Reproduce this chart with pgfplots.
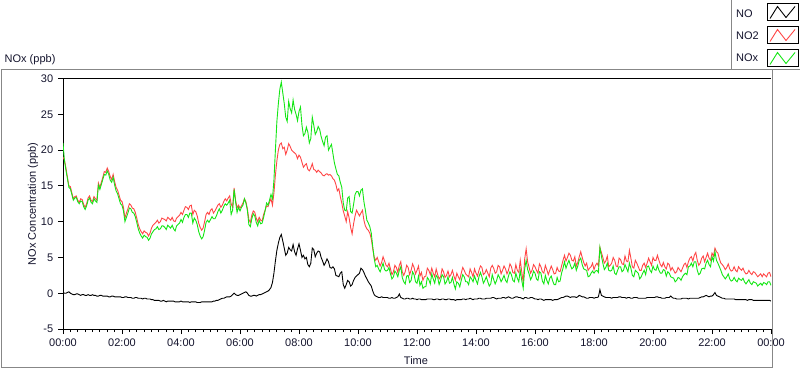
\documentclass[border=0pt]{standalone}
\usepackage{pgfplots}
\pgfplotsset{compat=1.18}
\usepackage{pgfplotstable}
\usepackage{fontspec}
\setmainfont{Liberation Sans}
\definecolor{nored}{RGB}{255,70,70}
\definecolor{nogreen}{RGB}{20,230,20}
\definecolor{txt}{RGB}{20,20,45}
\definecolor{framegray}{RGB}{135,135,135}

\pgfplotstableread{
t NO NO2 NOx
0.0 0.1 19.0 21.0
0.05 0.0 18.6 18.5
0.1 0.0 17.5 17.2
0.15 0.1 16.2 16.0
0.2 0.2 15.0 14.8
0.25 0.0 14.9 14.6
0.3 -0.1 14.0 13.8
0.35 -0.2 13.2 13.0
0.4 -0.2 13.5 13.3
0.45 -0.1 13.6 13.4
0.5 -0.1 13.0 12.8
0.55 -0.2 12.7 12.5
0.6 -0.3 13.2 12.9
0.65 -0.2 13.1 12.8
0.7 -0.2 12.4 12.1
0.75 -0.3 12.0 11.7
0.8 -0.3 12.5 12.2
0.85 -0.2 13.3 13.0
0.9 -0.3 13.6 13.3
0.95 -0.3 13.0 12.7
1.0 -0.2 12.8 12.5
1.05 -0.3 13.5 13.2
1.1 -0.3 13.2 12.9
1.15 -0.4 13.0 12.7
1.2 -0.4 15.4 15.1
1.25 -0.3 14.8 14.5
1.3 -0.3 15.5 15.2
1.35 -0.4 16.2 15.9
1.4 -0.4 17.0 16.6
1.45 -0.4 16.9 16.5
1.5 -0.4 17.5 17.1
1.55 -0.5 17.0 16.6
1.6 -0.5 16.3 15.8
1.65 -0.4 15.9 15.5
1.7 -0.4 16.6 16.2
1.75 -0.5 15.6 15.1
1.8 -0.5 14.8 14.3
1.85 -0.5 14.4 13.9
1.9 -0.5 13.7 13.2
1.95 -0.5 13.0 12.5
2.0 -0.6 12.8 12.3
2.05 -0.6 12.0 11.5
2.1 -0.5 10.5 10.0
2.15 -0.5 11.2 10.6
2.2 -0.6 11.8 11.2
2.25 -0.6 12.5 11.9
2.3 -0.6 12.3 11.8
2.35 -0.7 11.9 11.3
2.4 -0.7 11.8 11.2
2.45 -0.6 11.3 10.7
2.5 -0.6 10.5 9.9
2.55 -0.7 9.6 9.0
2.6 -0.7 9.0 8.4
2.65 -0.7 8.6 8.0
2.7 -0.8 8.3 7.7
2.75 -0.7 8.7 8.1
2.8 -0.7 8.5 7.9
2.85 -0.8 8.4 7.8
2.9 -0.8 8.0 7.4
2.95 -0.8 8.4 7.7
3.0 -0.9 9.1 8.3
3.05 -0.9 9.5 8.6
3.1 -1.0 9.7 8.9
3.15 -1.0 9.9 9.0
3.2 -1.0 10.2 9.3
3.25 -1.0 9.8 8.9
3.3 -1.1 10.0 9.0
3.35 -1.1 10.5 9.4
3.4 -1.0 10.4 9.4
3.45 -1.1 10.3 9.2
3.5 -1.2 10.1 8.9
3.55 -1.1 10.6 9.5
3.6 -1.1 10.4 9.3
3.65 -1.1 10.2 9.1
3.7 -1.1 10.6 9.5
3.75 -1.1 10.1 9.0
3.8 -1.2 10.0 8.7
3.85 -1.2 10.5 9.4
3.9 -1.2 10.7 9.6
3.95 -1.2 10.9 9.8
4.0 -1.1 11.3 10.3
4.05 -1.2 11.0 9.9
4.1 -1.2 11.6 10.6
4.15 -1.2 12.1 11.0
4.2 -1.2 12.0 11.0
4.25 -1.2 11.7 10.6
4.3 -1.3 12.2 11.2
4.35 -1.2 12.3 11.2
4.4 -1.2 11.0 9.8
4.45 -1.2 11.6 10.5
4.5 -1.2 11.4 10.2
4.55 -1.3 10.8 9.6
4.6 -1.3 9.8 8.6
4.65 -1.3 9.2 8.0
4.7 -1.2 8.8 7.6
4.75 -1.2 9.1 7.9
4.8 -1.2 10.0 8.8
4.85 -1.2 11.0 9.9
4.9 -1.2 11.3 10.2
4.95 -1.2 11.0 9.9
5.0 -1.2 11.6 10.3
5.05 -1.2 11.8 10.7
5.1 -1.1 11.2 10.4
5.15 -1.1 11.5 10.4
5.2 -1.0 11.9 10.8
5.25 -1.0 12.3 11.4
5.3 -0.9 12.5 11.8
5.35 -0.8 12.0 11.2
5.4 -0.7 12.3 11.6
5.45 -0.7 12.8 12.1
5.5 -0.6 13.2 12.5
5.55 -0.5 12.9 12.3
5.6 -0.5 13.3 12.6
5.65 -0.5 13.6 13.0
5.7 -0.4 12.5 11.0
5.75 -0.2 12.0 11.6
5.8 0.0 14.7 14.5
5.85 -0.2 13.0 12.8
5.9 -0.3 11.9 11.3
5.95 -0.3 12.3 12.0
6.0 -0.2 11.9 11.5
6.05 -0.1 12.2 12.0
6.1 0.0 12.6 12.3
6.15 0.1 13.2 13.2
6.2 0.2 12.8 12.6
6.25 0.0 11.8 11.6
6.3 -0.3 10.3 9.6
6.35 -0.4 9.9 9.3
6.4 -0.4 10.9 10.4
6.45 -0.3 11.5 11.1
6.5 -0.3 11.3 10.8
6.55 -0.4 10.5 9.9
6.6 -0.3 10.0 9.4
6.65 -0.2 10.6 10.2
6.7 -0.2 10.2 9.7
6.75 -0.1 10.1 9.8
6.8 0.0 11.0 10.6
6.85 0.1 11.6 11.5
6.9 0.2 12.2 12.6
6.95 0.3 12.1 12.3
7.0 0.5 12.7 13.0
7.05 0.8 13.2 13.8
7.1 1.5 12.3 13.2
7.15 2.8 14.0 15.8
7.2 4.5 16.5 20.0
7.25 6.0 18.5 24.0
7.3 7.0 20.0 26.5
7.35 7.8 20.8 28.5
7.4 8.2 21.0 29.5
7.45 7.3 20.2 28.0
7.5 6.3 20.4 26.5
7.55 5.3 19.4 24.6
7.6 5.6 20.0 24.0
7.65 6.4 20.9 26.8
7.7 6.1 20.5 25.8
7.75 5.9 20.0 25.2
7.8 6.8 19.8 27.0
7.85 5.8 19.6 25.7
7.9 5.3 19.4 25.0
7.95 6.2 18.8 24.1
8.0 6.9 19.3 25.4
8.05 6.0 19.0 26.0
8.1 5.0 18.3 23.5
8.15 5.3 17.6 22.0
8.2 4.8 17.9 22.3
8.25 5.0 18.1 23.2
8.3 4.0 17.3 22.5
8.35 3.7 17.1 21.0
8.4 4.2 17.5 21.6
8.45 6.3 18.1 24.6
8.5 6.1 17.3 23.5
8.55 5.1 17.2 22.2
8.6 5.6 16.9 22.6
8.65 5.9 17.2 23.3
8.7 5.8 17.0 22.9
8.75 5.0 16.8 21.9
8.8 4.5 16.5 21.2
8.85 3.9 16.4 20.6
8.9 4.3 16.6 21.8
8.95 4.8 16.7 22.0
9.0 4.4 16.5 20.0
9.05 3.6 16.6 20.4
9.1 3.5 16.4 20.8
9.15 3.7 16.0 19.5
9.2 3.4 15.8 18.2
9.25 2.5 15.2 17.4
9.3 2.4 14.3 16.6
9.35 2.3 14.6 16.4
9.4 2.8 13.5 15.5
9.45 3.0 12.6 14.8
9.5 1.2 11.5 12.6
9.55 0.7 10.8 11.6
9.6 1.2 10.0 11.5
9.65 1.8 11.4 13.3
9.7 1.6 10.5 13.5
9.75 1.0 9.2 11.4
9.8 1.2 8.3 11.2
9.85 1.8 9.7 12.4
9.9 2.2 10.8 13.8
9.95 2.4 11.6 14.2
10.0 2.6 11.2 14.2
10.05 2.8 10.8 13.6
10.1 3.5 11.2 14.4
10.15 3.3 11.6 14.6
10.2 2.9 10.2 12.8
10.25 2.4 9.4 11.6
10.3 2.0 9.0 10.2
10.35 1.6 8.8 9.8
10.4 1.3 8.4 9.3
10.45 1.0 7.6 8.4
10.5 0.3 6.2 6.5
10.55 -0.2 5.0 4.8
10.6 -0.4 4.6 3.7
10.65 -0.5 5.0 3.9
10.7 -0.6 4.4 3.4
10.75 -0.6 3.8 3.0
10.8 -0.5 4.3 3.6
10.85 -0.6 5.1 4.2
10.9 -0.6 4.5 3.3
10.95 -0.6 3.9 3.1
11.0 -0.6 3.7 3.2
11.05 -0.7 4.2 3.6
11.1 -0.7 3.4 2.7
11.15 -0.6 2.6 2.0
11.2 -0.7 3.0 2.3
11.25 -0.7 3.9 3.1
11.3 -0.6 3.6 2.8
11.35 -0.5 2.9 2.3
11.4 -0.1 3.9 3.2
11.45 -0.6 4.4 3.7
11.5 -0.7 3.0 2.2
11.55 -0.8 2.5 1.6
11.6 -0.8 3.0 1.3
11.65 -0.7 3.9 2.4
11.7 -0.7 3.6 2.5
11.75 -0.8 2.6 1.5
11.8 -0.8 3.2 1.8
11.85 -0.7 4.1 3.0
11.9 -0.8 3.6 2.6
11.95 -0.8 2.7 1.6
12.0 -0.9 3.2 1.4
12.05 -0.8 3.8 2.4
12.1 -0.8 2.4 1.1
12.15 -0.9 2.9 1.6
12.2 -0.9 1.8 0.7
12.25 -0.9 2.3 0.9
12.3 -0.9 2.4 0.9
12.35 -0.8 3.5 2.2
12.4 -0.8 3.2 1.9
12.45 -0.8 2.6 1.3
12.5 -0.8 3.5 2.7
12.55 -0.9 2.8 2.0
12.6 -0.9 2.3 1.4
12.65 -0.8 3.4 2.5
12.7 -0.8 2.6 2.2
12.75 -0.9 2.0 1.2
12.8 -0.9 2.3 1.8
12.85 -0.8 3.4 2.6
12.9 -0.8 3.0 2.3
12.95 -0.9 2.2 1.3
13.0 -0.9 2.5 1.6
13.05 -0.8 3.1 2.3
13.1 -0.8 2.3 1.4
13.15 -0.9 2.6 1.5
13.2 -0.9 3.2 2.2
13.25 -0.9 2.4 1.3
13.3 -1.0 1.8 0.6
13.35 -0.9 2.8 1.6
13.4 -0.9 2.3 1.4
13.45 -0.9 1.9 0.9
13.5 -0.9 2.8 1.8
13.55 -0.8 3.6 2.6
13.6 -0.8 3.2 2.3
13.65 -0.9 2.7 1.6
13.7 -0.8 2.5 1.6
13.75 -0.8 2.3 1.2
13.8 -0.7 3.4 2.3
13.85 -0.8 2.9 2.0
13.9 -0.9 2.3 1.6
13.95 -0.8 3.4 2.4
14.0 -0.8 2.8 1.8
14.05 -0.8 2.4 1.3
14.1 -0.7 3.2 2.3
14.15 -0.7 3.8 2.9
14.2 -0.8 3.6 2.3
14.25 -0.8 2.6 1.4
14.3 -0.8 2.8 1.8
14.35 -0.7 3.3 2.3
14.4 -0.7 2.8 1.6
14.45 -0.7 2.3 1.0
14.5 -0.7 3.5 1.3
14.55 -0.6 3.9 2.6
14.6 -0.6 3.5 1.9
14.65 -0.7 2.8 1.3
14.7 -0.8 3.0 1.8
14.75 -0.7 3.9 2.6
14.8 -0.7 3.7 2.2
14.85 -0.7 2.7 1.6
14.9 -0.6 3.2 2.0
14.95 -0.6 3.8 2.5
15.0 -0.7 3.4 1.8
15.05 -0.6 2.7 1.5
15.1 -0.5 3.2 2.4
15.15 -0.6 4.1 3.0
15.2 -0.7 3.7 2.6
15.25 -0.7 2.9 1.8
15.3 -0.6 2.8 1.6
15.35 -0.5 4.0 2.8
15.4 -0.5 3.2 2.1
15.45 -0.6 2.9 1.6
15.5 -0.6 4.6 3.2
15.55 -0.7 3.0 1.8
15.6 -0.8 1.5 0.7
15.65 -0.6 4.8 3.4
15.7 -0.6 6.2 4.6
15.75 -0.7 4.4 3.3
15.8 -0.7 3.6 2.7
15.85 -0.6 2.8 1.9
15.9 -0.6 3.2 2.3
15.95 -0.7 4.0 3.1
16.0 -0.8 3.7 2.8
16.05 -0.8 3.2 2.0
16.1 -0.9 2.8 1.8
16.15 -0.8 4.1 3.0
16.2 -0.8 3.7 2.8
16.25 -0.9 3.0 1.7
16.3 -1.0 2.8 1.3
16.35 -0.9 3.9 2.5
16.4 -0.9 3.3 1.8
16.45 -0.9 2.6 1.3
16.5 -0.9 3.2 2.1
16.55 -0.9 3.8 2.4
16.6 -1.0 3.3 1.7
16.65 -0.9 2.7 1.2
16.7 -0.9 2.8 1.2
16.75 -0.9 3.6 2.2
16.8 -0.8 3.1 1.6
16.85 -0.7 3.0 1.7
16.9 -0.6 3.8 2.8
16.95 -0.6 4.6 3.5
17.0 -0.5 5.3 4.4
17.05 -0.4 4.5 3.5
17.1 -0.4 5.0 4.1
17.15 -0.5 5.6 4.6
17.2 -0.6 5.3 3.9
17.25 -0.5 4.6 3.4
17.3 -0.5 4.5 3.6
17.35 -0.5 5.1 4.2
17.4 -0.6 3.8 3.2
17.45 -0.5 4.3 3.8
17.5 -0.3 5.1 4.6
17.55 -0.4 5.8 4.9
17.6 -0.5 5.0 4.0
17.65 -0.5 4.3 3.4
17.7 -0.6 3.8 3.3
17.75 -0.7 4.2 3.2
17.8 -0.7 3.2 2.3
17.85 -0.6 3.5 2.4
17.9 -0.6 3.7 2.8
17.95 -0.6 4.2 3.1
18.0 -0.7 3.3 2.8
18.05 -0.6 3.9 3.1
18.1 -0.6 4.2 3.2
18.15 -0.5 3.8 2.9
18.2 0.5 6.4 6.4
18.25 -0.3 5.7 5.2
18.3 -0.4 5.0 4.2
18.35 -0.5 4.2 3.3
18.4 -0.6 4.5 3.6
18.45 -0.6 5.2 4.2
18.5 -0.6 3.7 3.2
18.55 -0.6 3.9 3.1
18.6 -0.7 4.2 3.2
18.65 -0.6 5.0 3.8
18.7 -0.6 4.6 2.8
18.75 -0.6 3.8 2.6
18.8 -0.6 3.7 3.2
18.85 -0.5 4.9 3.7
18.9 -0.5 4.7 3.7
18.95 -0.6 4.1 3.0
19.0 -0.6 4.0 3.2
19.05 -0.6 5.2 4.0
19.1 -0.7 4.5 3.5
19.15 -0.6 4.4 3.0
19.2 -0.6 6.0 4.2
19.25 -0.7 4.9 3.5
19.3 -0.7 3.7 2.5
19.35 -0.6 3.5 2.3
19.4 -0.6 4.6 3.2
19.45 -0.6 4.2 3.0
19.5 -0.7 3.7 2.8
19.55 -0.7 3.2 2.0
19.6 -0.7 3.2 2.3
19.65 -0.7 3.9 2.8
19.7 -0.7 4.2 3.2
19.75 -0.7 3.6 2.6
19.8 -0.6 4.2 3.7
19.85 -0.6 4.9 3.8
19.9 -0.6 4.4 3.2
19.95 -0.6 3.9 2.9
20.0 -0.6 5.0 3.8
20.05 -0.6 4.6 3.3
20.1 -0.5 4.6 3.2
20.15 -0.5 5.3 3.9
20.2 -0.6 4.6 3.2
20.25 -0.6 4.0 2.8
20.3 -0.7 3.7 2.8
20.35 -0.7 4.3 3.3
20.4 -0.7 3.7 3.2
20.45 -0.6 3.4 2.4
20.5 -0.6 4.2 3.0
20.55 -0.6 4.0 2.8
20.6 -0.4 3.2 2.3
20.65 -0.6 3.6 2.2
20.7 -0.7 3.2 2.1
20.75 -0.7 2.8 1.6
20.8 -0.8 3.0 1.8
20.85 -0.8 3.6 2.2
20.9 -0.8 3.3 2.1
20.95 -0.8 3.0 1.8
21.0 -0.7 3.5 2.3
21.05 -0.7 4.0 2.6
21.1 -0.7 4.2 2.8
21.15 -0.7 3.6 2.6
21.2 -0.8 4.4 3.7
21.25 -0.7 4.9 3.8
21.3 -0.7 5.1 4.2
21.35 -0.7 4.5 3.7
21.4 -0.7 5.3 4.4
21.45 -0.7 5.7 4.4
21.5 -0.7 4.6 3.2
21.55 -0.7 3.9 2.6
21.6 -0.6 4.2 2.8
21.65 -0.5 4.9 3.4
21.7 -0.5 5.2 3.5
21.75 -0.4 4.4 3.4
21.8 -0.3 5.0 4.2
21.85 -0.4 5.6 4.6
21.9 -0.5 4.9 4.0
21.95 -0.4 4.6 3.7
22.0 -0.4 5.6 5.1
22.05 -0.2 5.2 4.5
22.1 0.1 6.3 5.8
22.15 -0.3 5.8 4.6
22.2 -0.4 5.6 4.2
22.25 -0.5 4.8 3.7
22.3 -0.6 4.2 3.2
22.35 -0.7 4.0 2.6
22.4 -0.7 3.7 2.3
22.45 -0.8 3.3 2.0
22.5 -0.8 3.6 2.3
22.55 -0.8 4.1 2.7
22.6 -0.8 3.4 2.0
22.65 -0.8 3.1 1.7
22.7 -0.8 3.2 1.8
22.75 -0.8 3.7 2.2
22.8 -0.9 3.2 1.8
22.85 -0.9 3.0 1.6
22.9 -0.9 3.7 2.1
22.95 -0.9 3.4 1.9
23.0 -0.9 3.2 1.8
23.05 -0.9 3.5 2.1
23.1 -0.9 3.0 1.6
23.15 -0.9 2.7 1.3
23.2 -1.0 2.8 1.6
23.25 -0.9 3.2 1.9
23.3 -0.9 2.8 1.4
23.35 -0.9 2.6 1.2
23.4 -1.0 3.0 1.6
23.45 -1.0 2.9 1.5
23.5 -1.0 2.6 1.4
23.55 -1.0 2.3 1.0
23.6 -1.0 2.5 1.2
23.65 -1.0 2.7 1.4
23.7 -1.0 2.3 1.1
23.75 -1.0 2.7 1.5
23.8 -1.0 2.5 1.4
23.85 -1.0 2.3 1.2
23.9 -1.0 2.8 1.6
23.95 -1.0 2.9 1.6
24.0 -1.1 2.3 1.1
}\data

\begin{document}
\fontsize{11bp}{13bp}\selectfont
\begin{tikzpicture}[x=1bp,y=1bp]
\path[use as bounding box] (0,0) rectangle (800,-369);
% outer frame
\draw[framegray,line width=1bp] (1.5,-69.5) rectangle (772,-367.5);
% legend box
\fill[white] (731.5,0) rectangle (800,-69.5);
\draw[framegray,line width=1bp] (731.5,0) -- (731.5,-69.5) -- (800,-69.5);
\node[anchor=base west,inner sep=0,text=txt] at (736,-17.5) {NO};
\node[anchor=base west,inner sep=0,text=txt] at (736,-39.5) {NO2};
\node[anchor=base west,inner sep=0,text=txt] at (736,-61.5) {NOx};
\foreach \yy/\cc in {3.5/black,26.5/nored,49.5/nogreen}{
  \draw[black,line width=0.9bp,fill=white] (767.5,-\yy) rectangle (798.5,-\yy-17);
  \draw[\cc,line width=0.9bp] (770,-\yy-15) -- (777.5,-\yy-3) -- (786,-\yy-14) -- (795,-\yy-3);
}
% title
\node[anchor=base west,inner sep=0,text=txt] at (4.5,-62) {NOx (ppb)};
\begin{axis}[
  at={(63bp,-329bp)}, anchor=south west,
  scale only axis, width=708bp, height=250.5bp,
  xmin=0, xmax=24, ymin=-5, ymax=30,
  axis x line*=bottom, axis y line*=left,
  axis line style={-,black,line width=1bp},
  tick align=outside,
  major tick length=5bp, minor tick length=3bp,
  every tick/.style={black,line width=0.8bp},
  xtick={0,2,...,24},
  xticklabels={00:00,02:00,04:00,06:00,08:00,10:00,12:00,14:00,16:00,18:00,20:00,22:00,00:00},
  minor x tick num=7,
  ytick={-5,0,5,10,15,20,25,30},
  yticklabels={-5,0,5,10,15,20,25,30},
  tick label style={font=\fontsize{11bp}{13bp}\selectfont, text=txt},
  xticklabel style={yshift=-1bp},
  yticklabel style={xshift=-1bp},
  clip=true,
]
\addplot[black, line width=0.9bp] table[x=t,y=NO] {\data};
\addplot[nored, line width=0.9bp] table[x=t,y=NO2] {\data};
\addplot[nogreen, line width=0.9bp] table[x=t,y=NOx] {\data};
\draw[black,line width=1bp] (rel axis cs:0,1) -- (rel axis cs:1,1);
\end{axis}
\node[text=txt,inner sep=0] at (416,-361) {Time};
\node[text=txt,inner sep=0,rotate=90] at (33,-204) {NOx Concentration (ppb)};
\end{tikzpicture}
\end{document}
